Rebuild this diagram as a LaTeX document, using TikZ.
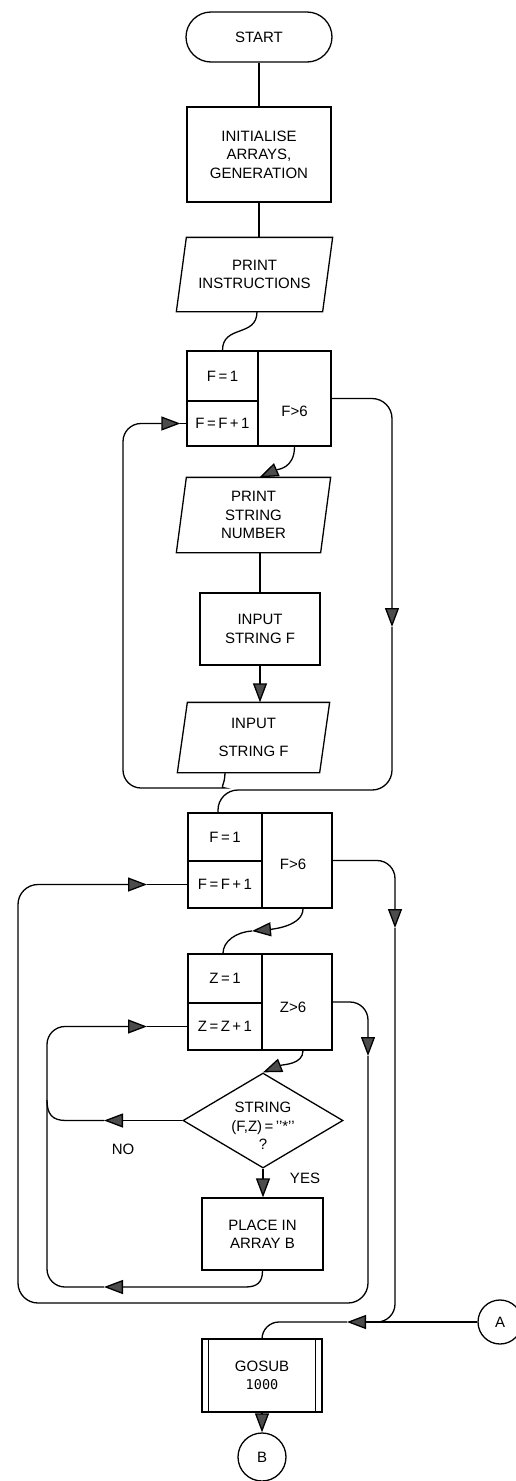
\documentclass[tikz,border=0pt]{standalone}
\usepackage{fontspec}
\setmainfont{Liberation Sans}
\newfontfamily\monof{DejaVu Sans Mono}
\usetikzlibrary{arrows.meta,shapes.geometric}
\newcommand\paral[1]{\draw ([xshift=10pt]#1.north west) -- (#1.north east) -- ([xshift=-10pt]#1.south east) -- (#1.south west) -- cycle;}
\begin{document}
\begin{tikzpicture}[x=1pt,y=-1pt,
  line width=1.3pt,
  every node/.style={font=\fontsize{15}{18.5}\selectfont, align=center, inner sep=0pt},
  flowbox/.style={draw, rectangle, inner sep=0pt},
  arr/.style={-{Triangle[length=19pt,width=14pt,fill=black!70]}}
]
\useasboundingbox (0,0) rectangle (516,1481);

% ---- nodes ----
\node[flowbox, rounded corners=25pt, minimum width=146pt, minimum height=50pt] (start) at (259,37) {START};
\node[flowbox, minimum width=144pt, minimum height=95pt] (init) at (259,154.5) {INITIALISE\\ARRAYS,\\GENERATION};
\node[minimum width=155pt, minimum height=73pt] (pi) at (254.5,274.5) {PRINT\\INSTRUCTIONS};
\paral{pi}

\node[flowbox, minimum width=71pt, minimum height=50pt] (fa1) at (222.5,376) {F\,=\,1};
\node[flowbox, minimum width=71pt, minimum height=45pt] (fb1) at (222.5,423.5) {F\,=\,F\,+\,1};
\node[flowbox, minimum width=73pt, minimum height=95pt] (fc1) at (294.5,398.5) {};
\node (fc1t) at (294.5,411) {F>6};

\node[minimum width=153pt, minimum height=74pt] (psn) at (253.5,515) {PRINT\\STRING\\NUMBER};
\paral{psn}
\node[flowbox, minimum width=120pt, minimum height=72pt] (isb) at (260,629) {INPUT\\STRING F};
\node[minimum width=151pt, minimum height=69pt] (isp) at (253.5,737.5) {INPUT\\[10pt]STRING F};
\paral{isp}

\node[flowbox, minimum width=74pt, minimum height=48pt] (fa2) at (225,837) {F\,=\,1};
\node[flowbox, minimum width=74pt, minimum height=47pt] (fb2) at (225,884.5) {F\,=\,F\,+\,1};
\node[flowbox, minimum width=70pt, minimum height=95pt] (fc2) at (297,860.5) {};
\node (fc2t) at (293,864) {F>6};

\node[flowbox, minimum width=74pt, minimum height=49pt] (za) at (225,978.5) {Z\,=\,1};
\node[flowbox, minimum width=74pt, minimum height=47pt] (zb) at (225,1026.5) {Z\,=\,Z\,+\,1};
\node[flowbox, minimum width=70pt, minimum height=96pt] (zc) at (297,1002) {};
\node (zct) at (293,1007) {Z>6};

\node[draw, diamond, minimum width=160pt, minimum height=95pt] (dia) at (263,1120.5) {};
\node (diat) at (263,1126) {STRING\\(F,Z)\,=\,{’’}*{’’}\\?};
\node[flowbox, minimum width=121pt, minimum height=72pt] (place) at (262.5,1234) {PLACE IN\\ARRAY B};

\node[flowbox, minimum width=120pt, minimum height=73pt] (gosub) at (262,1375.5) {GOSUB\\{\monof\fontsize{13.5}{18.5}\selectfont 1000}};
\draw ([xshift=7pt]gosub.north west) -- ([xshift=7pt]gosub.south west);
\draw ([xshift=-7pt]gosub.north east) -- ([xshift=-7pt]gosub.south east);
\node[draw, circle, minimum size=48pt] (B) at (262,1457) {B};
\node[draw, circle, minimum size=44pt] (A) at (500,1322) {A};

\node (no) at (123,1149) {NO};
\node (yes) at (305,1178) {YES};

% ---- connectors ----
\draw (start) -- (init);
\draw (init.south) -- (init.south |- pi.north);
\draw ([xshift=2.5pt]pi.south) .. controls +(0,26) and +(0,-26) .. (fa1.north);
\draw[arr] (fc1.south) .. controls +(0,22) and +(18,-8) .. ([xshift=6pt]psn.north);
\draw (isb.north |- psn.south) -- (isb.north);
\draw[arr] (isb.south) -- (isb.south |- isp.north);

% loop 1 back
\draw[arr, rounded corners=18pt] ([xshift=-28.5pt]isp.south) .. controls +(0,13) and +(12,0) .. (207,788) -- (123,788) -- (123,423.5) -- ([xshift=-6pt]fb1.west);
\draw ([xshift=-6pt]fb1.west) -- (fb1.west);

% loop 1 exit
\draw[arr, rounded corners=20pt] (fc1.east) -- (392,398.5) -- (392,627);
\draw[rounded corners=20pt] (392,627) -- (392,790) -- (218,790) -- ([xshift=-7pt]fa2.north);

% loop 2 into loop 3
\draw[arr] ([xshift=6pt]fc2.south) .. controls +(0,17) and +(22,-2) .. (252,931);
\draw (252,931) .. controls +(-16,1) and +(0,-12) .. ([xshift=-2pt]za.north);

% loop 2 exit
\draw[arr, rounded corners=18pt] (fc2.east) -- (395,860.5) -- (395,928);
\draw[rounded corners=18pt] (395,928) -- (395,1322) -- (377,1322);
\draw[arr] (A.west) -- (347,1322);
\draw[rounded corners=17pt] (347,1322) -- (262,1322) -- (gosub.north);

% loop 3 exit back to loop 2 increment
\draw[arr, rounded corners=18pt] (zc.east) -- (368,1002) -- (368,1056);
\draw[arr, rounded corners=20pt] (368,1056) -- (368,1303) -- (18,1303) -- (18,884.5) -- (147,884.5);
\draw (147,884.5) -- (fb2.west);

% loop 3 body
\draw[arr] ([xshift=6pt]zc.south) .. controls +(0,14) and +(20,-8) .. (dia.north);
\draw[arr] (dia.west) -- (104,1120.5);
\draw (104,1120.5) -- (66,1120.5) .. controls (52,1120.5) and (47,1114) .. (47,1100);
\draw[arr] (place.south) .. controls +(0,12) and +(12,0) .. (245,1287) -- (104,1287);
\draw[arr, rounded corners=18pt] (104,1287) -- (47,1287) -- (47,1026.5) -- (147,1026.5);
\draw (147,1026.5) -- (zb.west);
\draw[arr] (dia.south) -- (dia.south |- place.north);

\draw[arr] (gosub.south) -- (gosub.south |- B.north);
\end{tikzpicture}
\end{document}
